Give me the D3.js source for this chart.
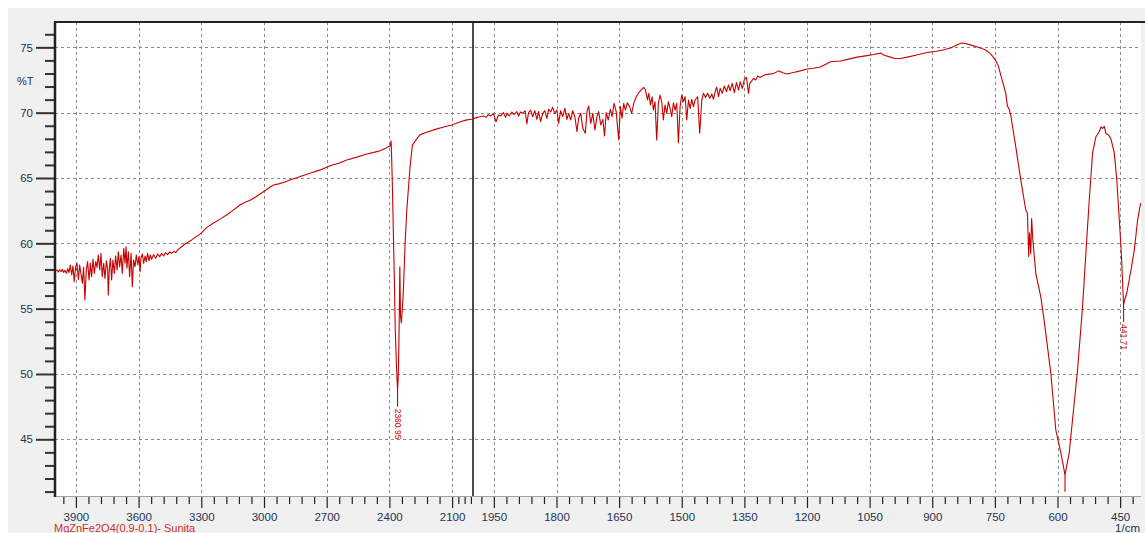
<!DOCTYPE html>
<html>
<head>
<meta charset="utf-8">
<script src="https://cdn.jsdelivr.net/npm/d3@7"></script>
<style>
  body { margin: 0; background: #ffffff; }
  svg { display: block; }
  text { font-family: "Liberation Sans", Arial, sans-serif; }
</style>
</head>
<body>
<svg id="chart" width="1145" height="533"></svg>
<script>
// FTIR spectrum of MgZnFe2O4 (0.9-0.1): wavenumber (1/cm) and transmittance (%T)
const wavenumber = [
  4000, 3990, 3984, 3978, 3971, 3965, 3959, 3952, 3946, 3939, 3933, 3927, 3920, 3914, 3908, 3901,
  3895, 3888, 3882, 3876, 3869, 3863, 3857, 3850, 3844, 3837, 3831, 3825, 3818, 3812, 3805, 3799,
  3793, 3786, 3780, 3774, 3767, 3761, 3754, 3748, 3745, 3740, 3735, 3729, 3723, 3716, 3710, 3703,
  3697, 3691, 3684, 3678, 3671, 3665, 3660, 3656, 3649, 3643, 3636, 3630, 3624, 3617, 3611, 3604,
  3598, 3593, 3589, 3582, 3576, 3569, 3563, 3557, 3550, 3544, 3538, 3528, 3518, 3509, 3499, 3490,
  3480, 3471, 3461, 3451, 3442, 3432, 3423, 3410, 3394, 3378, 3362, 3346, 3330, 3314, 3298,
  3275, 3243, 3210, 3179, 3150, 3115, 3090, 3067, 3040, 3003, 2980, 2955, 2930, 2900, 2876, 2830,
  2780, 2730, 2684, 2640, 2604, 2560, 2508, 2470, 2445, 2420, 2405, 2396,
  2392, 2390, 2386, 2380, 2376, 2372, 2366, 2360.95, 2357, 2354, 2350, 2347, 2343, 2338, 2333, 2325,
  2317, 2301, 2290, 2278, 2254, 2222, 2180, 2140, 2102, 2060, 2030, 2007,
  1999, 1991, 1983, 1975, 1969, 1963, 1958, 1951, 1945, 1939, 1934, 1927, 1922, 1918, 1913, 1907,
  1902, 1895, 1891, 1886, 1881, 1875, 1871, 1867, 1862, 1857, 1852, 1847, 1843, 1838, 1833, 1828,
  1823, 1819, 1814, 1809, 1804, 1799, 1795, 1790, 1785, 1780, 1775, 1771, 1766, 1761, 1756, 1751,
  1747, 1742, 1737, 1731, 1727, 1723, 1718, 1713, 1708, 1703, 1699, 1694, 1689, 1685, 1681, 1676,
  1671, 1667, 1662, 1657, 1651, 1647, 1643, 1639, 1635, 1630, 1625, 1620, 1615, 1609, 1603, 1596,
  1591, 1587, 1582, 1579, 1575, 1571, 1568, 1564, 1560, 1556, 1552, 1548, 1544, 1540, 1536, 1532,
  1528, 1524, 1520, 1516, 1512, 1508, 1504, 1500, 1496, 1492, 1488, 1484, 1480, 1476, 1472, 1468,
  1462, 1457, 1452, 1448, 1443, 1438, 1433, 1428, 1424, 1419, 1416, 1412, 1408, 1403, 1398, 1393,
  1388, 1384, 1379, 1374, 1369, 1364, 1360, 1355, 1350, 1345, 1340, 1337, 1332, 1328, 1323, 1318,
  1313, 1300, 1290, 1280, 1268, 1258, 1248, 1235, 1216, 1200, 1185, 1168, 1155, 1144, 1120, 1100,
  1080, 1060, 1040, 1024, 1015, 1000, 990, 976, 960, 940, 920, 904, 890, 875, 856, 840,
  830, 820, 805, 790, 772, 760, 748, 742, 736, 730, 724, 720, 716, 712, 700, 688,
  676, 672, 669, 667, 664, 662, 659, 652, 640, 632, 616, 604, 592, 582, 572, 564,
  552, 540, 532, 524, 516, 508, 500, 496, 492, 488, 484, 478, 472, 464, 458, 452,
  448, 446, 443.5, 441.71, 439, 434, 424, 416, 408, 402, 400
];
const transmittance = [
  57.91, 57.96, 57.81, 57.98, 57.83, 58.01, 57.78, 57.93, 57.70, 58.06, 57.76, 58.34, 57.58, 58.27, 57.07, 58.21,
  58.47, 57.24, 58.34, 57.70, 56.94, 58.16, 55.66, 58.01, 58.60, 57.19, 58.47, 57.45, 58.78, 57.70, 58.60, 58.16,
  59.11, 57.96, 59.23, 57.45, 58.47, 57.32, 58.67, 57.96, 56.05, 58.09, 58.85, 57.19, 58.72, 57.70, 59.03, 57.96,
  59.36, 58.21, 59.11, 57.70, 59.62, 58.47, 59.74, 58.09, 59.36, 57.45, 59.23, 56.68, 58.72, 58.21, 59.11, 58.34,
  58.98, 57.83, 58.85, 59.18, 58.47, 59.03, 58.60, 59.23, 58.67, 59.11, 58.78, 59.13, 58.85, 59.18, 58.98, 59.23,
  59.03, 59.29, 59.13, 59.34, 59.23, 59.39, 59.29, 59.54, 59.74, 59.95, 60.10, 60.26, 60.46, 60.61, 60.82,
  61.20, 61.53, 61.85, 62.17, 62.50, 62.93, 63.15, 63.30, 63.55, 63.95, 64.20, 64.46, 64.55, 64.70, 64.85, 65.10,
  65.36, 65.62, 65.94, 66.15, 66.38, 66.58, 66.84, 66.98, 67.09, 67.25, 67.40, 67.45,
  67.85, 67.00, 64.60, 60.00, 57.00, 53.40, 50.50, 48.80, 50.00, 53.00, 58.20, 54.50, 53.90, 55.00, 56.40, 60.00,
  62.50, 65.90, 67.50, 67.80, 68.30, 68.50, 68.72, 68.90, 69.05, 69.30, 69.45, 69.50,
  69.54, 69.64, 69.69, 69.75, 69.64, 69.85, 69.75, 69.95, 69.31, 69.82, 69.75, 70.00, 69.64, 69.95, 69.75, 70.05,
  69.85, 70.08, 69.75, 70.05, 69.95, 70.15, 69.13, 70.00, 70.20, 69.69, 70.15, 69.49, 70.08, 69.31, 69.95, 70.15,
  69.57, 70.26, 70.05, 70.41, 69.95, 70.20, 69.18, 70.15, 69.69, 70.33, 69.49, 69.95, 69.44, 70.15, 69.69, 68.55,
  69.57, 69.95, 68.80, 68.42, 70.08, 70.51, 69.18, 69.95, 68.67, 69.69, 70.08, 69.06, 69.49, 68.21, 70.00, 69.44,
  70.26, 69.69, 70.71, 70.08, 67.91, 70.46, 69.57, 70.71, 70.20, 70.76, 70.46, 69.95, 70.71, 71.22, 71.53, 71.79,
  71.94, 71.73, 70.97, 71.48, 70.59, 71.22, 70.20, 70.84, 67.91, 70.71, 71.35, 70.84, 69.44, 70.59, 69.95, 70.84,
  70.33, 69.69, 70.76, 70.20, 70.71, 67.70, 70.46, 71.35, 70.84, 71.22, 69.44, 70.97, 70.33, 71.02, 70.46, 70.97,
  71.22, 68.42, 70.97, 71.48, 71.17, 71.48, 71.10, 71.43, 71.02, 71.73, 71.94, 71.22, 71.86, 71.48, 72.04, 71.61,
  72.12, 71.68, 72.24, 71.53, 72.30, 71.73, 72.37, 71.86, 72.55, 72.70, 71.48, 72.24, 72.45, 72.63, 72.50, 72.81,
  72.70, 72.90, 72.95, 73.00, 73.20, 73.05, 72.96, 73.05, 73.20, 73.34, 73.40, 73.50, 73.70, 73.90, 73.95, 74.10,
  74.25, 74.35, 74.45, 74.56, 74.40, 74.25, 74.15, 74.15, 74.25, 74.40, 74.55, 74.64, 74.70, 74.80, 74.95, 75.20,
  75.33, 75.30, 75.15, 75.00, 74.80, 74.50, 74.00, 73.60, 72.90, 72.20, 71.50, 70.50, 70.30, 69.80, 67.40, 64.85,
  62.55, 62.30, 59.00, 60.80, 59.20, 61.90, 60.25, 57.70, 55.90, 54.10, 50.07, 45.70, 43.96, 42.28, 43.96, 46.50,
  50.30, 55.15, 59.24, 63.30, 66.90, 68.16, 68.54, 68.90, 68.80, 68.95, 68.40, 68.30, 68.00, 66.90, 64.85, 61.80,
  59.74, 58.50, 56.50, 55.28, 55.70, 56.20, 57.96, 59.50, 61.80, 62.90, 63.10
];

// Marked absorption minima (label null = marker only)
const peakWavenumbers = [2360.95, 582, 441.71];
const peakLabels = ["2360.95", null, "441.71"];

// Axis ticks
const yMajorTicks = [75, 70, 65, 60, 55, 50, 45];
const yMinorTicks = [41, 42, 43, 44, 46, 47, 48, 49, 51, 52, 53, 54, 56, 57, 58, 59, 61, 62, 63, 64, 66, 67, 68, 69, 71, 72, 73, 74, 76];
const xMajorHigh = [3900, 3600, 3300, 3000, 2700, 2400, 2100];
const xMinorHigh = [3960, 3840, 3780, 3720, 3660, 3540, 3480, 3420, 3360, 3240, 3180, 3120, 3060, 2940, 2880, 2820, 2760, 2640, 2580, 2520, 2460, 2340, 2280, 2220, 2160, 2070, 2040, 2010];
const xMajorLow = [1950, 1800, 1650, 1500, 1350, 1200, 1050, 900, 750, 600, 450];
const xMinorLow = [1980, 1920, 1890, 1860, 1830, 1770, 1740, 1710, 1680, 1620, 1590, 1560, 1530, 1470, 1440, 1410, 1380, 1320, 1290, 1260, 1230, 1170, 1140, 1110, 1080, 1020, 990, 960, 930, 870, 840, 810, 780, 720, 690, 660, 630, 570, 540, 510, 480, 420];

const seriesName = "MgZnFe2O4(0.9-0.1)- Sunita";

// Layout
const W = 1145, H = 533;
const plot = { left: 55, top: 22, right: 1141, bottom: 496, brk: 473 };
const labelColor = "#26324f";
const curveColor = "#c80000";

const svg = d3.select("#chart");

// Panel and plot background
svg.append("rect").attr("x", 8).attr("y", 8).attr("width", W - 8).attr("height", H - 8).attr("fill", "#f0f0f0");
svg.append("rect").attr("x", plot.left).attr("y", plot.top)
  .attr("width", plot.right - plot.left).attr("height", plot.bottom - plot.top).attr("fill", "#ffffff");

// Split x axis: 4000-2000 and 2000-400 at different scales
const xHigh = d3.scaleLinear().domain([4000, 2000]).range([plot.left, plot.brk]);
const xLow = d3.scaleLinear().domain([2000, 400]).range([plot.brk, plot.right]);
const x = wn => (wn >= 2000 ? xHigh(wn) : xLow(wn));
const y = d3.scaleLinear().domain([40.66, 76.94]).range([plot.bottom, plot.top]);

// Grid
const grid = svg.append("g").attr("stroke", "#8a8a8a").attr("stroke-width", 1).attr("stroke-dasharray", "3,3");
yMajorTicks.forEach(v => {
  grid.append("line").attr("x1", plot.left).attr("x2", plot.right)
    .attr("y1", Math.round(y(v)) + 0.5).attr("y2", Math.round(y(v)) + 0.5);
});
xMajorHigh.map(xHigh).concat(xMajorLow.map(xLow)).forEach(px => {
  grid.append("line").attr("x1", Math.round(px) + 0.5).attr("x2", Math.round(px) + 0.5)
    .attr("y1", plot.top).attr("y2", plot.bottom);
});

// Break marker at 2000
svg.append("line").attr("x1", plot.brk).attr("x2", plot.brk)
  .attr("y1", plot.top).attr("y2", plot.bottom)
  .attr("stroke", "#4a4a4a").attr("stroke-width", 2);

// Spectrum
svg.append("clipPath").attr("id", "plotClip").append("rect")
  .attr("x", plot.left).attr("y", plot.top)
  .attr("width", plot.right - plot.left).attr("height", plot.bottom - plot.top);

const points = wavenumber.map((wn, i) => [wn, transmittance[i]]);
const line = d3.line().x(d => x(d[0])).y(d => y(d[1]));
svg.append("path").datum(points)
  .attr("clip-path", "url(#plotClip)")
  .attr("fill", "none").attr("stroke", curveColor).attr("stroke-width", 1.1)
  .attr("stroke-linejoin", "round")
  .attr("d", line);

// Peak markers and labels
const peaks = svg.append("g").attr("clip-path", "url(#plotClip)");
peakWavenumbers.forEach((wn, i) => {
  const t = transmittance[wavenumber.indexOf(wn)];
  const px = x(wn), py = y(t);
  peaks.append("line").attr("x1", px).attr("x2", px).attr("y1", py).attr("y2", py + 17)
    .attr("stroke", curveColor).attr("stroke-width", 1.1);
  if (peakLabels[i]) {
    peaks.append("text")
      .attr("transform", `translate(${px - 3},${py + 19}) rotate(90)`)
      .attr("font-size", 8.5).attr("fill", curveColor)
      .text(peakLabels[i]);
  }
});

// Y axis
const yMajor = svg.append("g").attr("transform", `translate(${plot.left},0)`)
  .call(d3.axisLeft(y).tickValues(yMajorTicks).tickSize(19).tickPadding(3));
const yMinor = svg.append("g").attr("transform", `translate(${plot.left},0)`)
  .call(d3.axisLeft(y).tickValues(yMinorTicks).tickSize(10).tickFormat(""));
[yMajor, yMinor].forEach(g => {
  g.select(".domain").remove();
  g.selectAll(".tick line").attr("stroke", "#333").attr("stroke-width", 2);
});
yMajor.selectAll("text").attr("font-size", 11.5).attr("fill", labelColor).attr("font-family", "Liberation Sans, Arial, sans-serif");

// X axes (two scales)
const xAxisY = plot.bottom + 1;
function drawX(scale, major, minor) {
  const gM = svg.append("g").attr("transform", `translate(0,${xAxisY})`)
    .call(d3.axisBottom(scale).tickValues(major).tickSize(11).tickPadding(5).tickFormat(d3.format("d")));
  const gm = svg.append("g").attr("transform", `translate(0,${xAxisY})`)
    .call(d3.axisBottom(scale).tickValues(minor).tickSize(7).tickFormat(""));
  [gM, gm].forEach(g => {
    g.select(".domain").remove();
    g.selectAll(".tick line").attr("stroke", "#222").attr("stroke-width", 1.2);
  });
  gM.selectAll("text").attr("font-size", 11.5).attr("fill", labelColor).attr("font-family", "Liberation Sans, Arial, sans-serif");
}
drawX(xHigh, xMajorHigh, xMinorHigh);
drawX(xLow, xMajorLow, xMinorLow);

// Frame
svg.append("line").attr("x1", plot.left).attr("x2", plot.right).attr("y1", plot.bottom + 0.5).attr("y2", plot.bottom + 0.5)
  .attr("stroke", "#a0a0a0").attr("stroke-width", 1);
svg.append("line").attr("x1", plot.left - 1).attr("x2", W).attr("y1", plot.top).attr("y2", plot.top)
  .attr("stroke", "#222").attr("stroke-width", 2);
svg.append("line").attr("x1", plot.left).attr("x2", plot.left).attr("y1", plot.top).attr("y2", plot.bottom + 1)
  .attr("stroke", "#222").attr("stroke-width", 2.5);

// Axis titles and series name
svg.append("text").attr("x", 17).attr("y", 85).attr("font-size", 11).attr("fill", labelColor).text("%T");
svg.append("text").attr("x", 1140).attr("y", 532).attr("text-anchor", "end")
  .attr("font-size", 11.5).attr("fill", labelColor).text("1/cm");
svg.append("text").attr("x", 54).attr("y", 532).attr("font-size", 11)
  .attr("fill", "#c8302c").text(seriesName);
</script>
</body>
</html>
